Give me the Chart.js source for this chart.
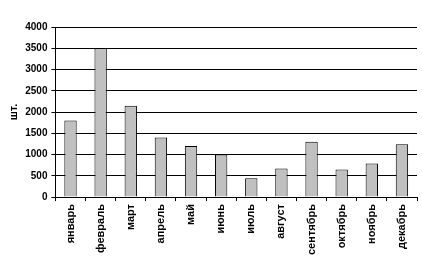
<!DOCTYPE html>
<html>
<head>
<meta charset="utf-8">
<script src="https://cdn.jsdelivr.net/npm/chart.js@4/dist/chart.umd.min.js"></script>
<style>
    html, body { margin: 0; padding: 0; background: #fff; }
    #wrap { width: 422px; height: 272px; }
</style>
</head>
<body>
<div id="wrap"><canvas id="monthChart" width="422" height="272"></canvas></div>
<script>
// Chart data
const months = ['январь', 'февраль', 'март', 'апрель', 'май', 'июнь', 'июль', 'август', 'сентябрь', 'октябрь', 'ноябрь', 'декабрь'];
const counts = [1800, 3500, 2150, 1400, 1200, 1000, 440, 670, 1300, 650, 790, 1240];
const yTitle = 'шт.';

const font = { family: '"Liberation Sans", Arial, sans-serif', size: 10, weight: 'bold' };
const labelFont = { family: '"Liberation Sans", Arial, sans-serif', size: 11, weight: 'bold' };

// Create the bar chart
const canvas = document.getElementById('monthChart');
canvas.chart = new Chart(canvas, {
    type: 'bar',
    data: {
        labels: months,
        datasets: [{
            data: counts,
            backgroundColor: '#c0c0c0',
            borderColor: '#000',
            borderWidth: 1,
            barPercentage: 0.41,
            categoryPercentage: 1
        }]
    },
    options: {
        responsive: false,
        animation: false,
        layout: {
            padding: { top: 27, right: 5, bottom: 14, left: 7 }
        },
        plugins: {
            legend: { display: false },
            tooltip: { enabled: false }
        },
        scales: {
            x: {
                grid: {
                    display: true,
                    drawOnChartArea: false,
                    drawTicks: true,
                    tickLength: 4,
                    color: '#000'
                },
                border: { color: '#000', width: 1 },
                ticks: {
                    color: '#000',
                    font: labelFont,
                    maxRotation: 90,
                    minRotation: 90,
                    padding: 3,
                    autoSkip: false
                }
            },
            y: {
                min: 0,
                max: 4000,
                grid: {
                    color: '#000',
                    tickLength: 4
                },
                border: { color: '#000', width: 1 },
                ticks: {
                    stepSize: 500,
                    color: '#000',
                    font: font,
                    padding: 4,
                    callback: (value) => String(value)
                },
                title: {
                    display: true,
                    text: yTitle,
                    color: '#000',
                    font: labelFont,
                    padding: { top: 0, bottom: 1 }
                }
            }
        }
    }
});
</script>
</body>
</html>
